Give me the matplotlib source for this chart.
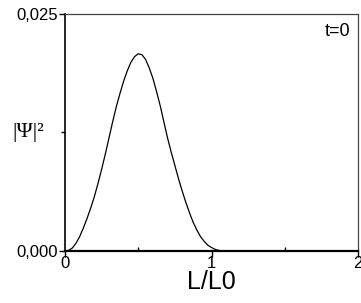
import matplotlib
matplotlib.use("Agg")
import matplotlib.pyplot as plt
from matplotlib.ticker import FixedLocator, FuncFormatter

plt.rcParams['font.family'] = ['Liberation Sans', 'DejaVu Sans']

# values
L = [0.0, 0.025, 0.05, 0.075, 0.10, 0.125, 0.15, 0.175, 0.20, 0.225, 0.25,
     0.275, 0.30, 0.325, 0.35, 0.375, 0.40, 0.425, 0.45, 0.475, 0.50, 0.525,
     0.55, 0.575, 0.60, 0.625, 0.65, 0.675, 0.70, 0.725, 0.75, 0.775, 0.80,
     0.825, 0.85, 0.875, 0.90, 0.925, 0.95, 0.975, 1.00, 1.025, 1.05, 1.075, 2.0]
psi2 = [0.0, 0.00006, 0.0003, 0.0008, 0.0015, 0.0024, 0.0034, 0.0045, 0.0057,
        0.0071, 0.0086, 0.0102, 0.0119, 0.0136, 0.0152, 0.0166, 0.0179, 0.0190,
        0.0199, 0.0205, 0.0208, 0.0207, 0.0202, 0.0193, 0.0182, 0.0168, 0.0153,
        0.0136, 0.0119, 0.0104, 0.0090, 0.0076, 0.0063, 0.0051, 0.0040, 0.0030,
        0.0022, 0.0015, 0.0010, 0.0006, 0.00035, 0.00016, 0.00005, 0.0, 0.0]

fig = plt.figure(figsize=(3.61, 3.03), dpi=100)
ax = fig.add_axes([0.180, 0.172, 0.812, 0.782])
ax.plot(L, psi2, color='black', lw=0.9, clip_on=False)

ax.set_xlim(0, 2)
ax.set_ylim(0, 0.025)

ax.xaxis.set_major_locator(FixedLocator([0, 1, 2]))
ax.xaxis.set_minor_locator(FixedLocator([0.5, 1.5]))
ax.yaxis.set_major_locator(FixedLocator([0, 0.025]))
ax.yaxis.set_minor_locator(FixedLocator([0.0125]))
ax.xaxis.set_major_formatter(FuncFormatter(lambda v, p: "%d" % v))
ax.yaxis.set_major_formatter(FuncFormatter(lambda v, p: ("%.3f" % v).replace('.', ',')))

ax.tick_params(axis='x', which='major', direction='out', length=4, width=1,
               labelsize=12, pad=0)
ax.tick_params(axis='x', which='minor', direction='in', length=3, width=1)
ax.tick_params(axis='y', which='major', direction='out', length=4, width=1,
               labelsize=12, pad=1)
ax.tick_params(axis='y', which='minor', direction='out', length=3, width=1)

ax.spines['bottom'].set_linewidth(1.6)
ax.spines['left'].set_linewidth(1.2)
ax.spines['top'].set_linewidth(0.9)
ax.spines['right'].set_linewidth(0.9)
ax.spines['top'].set_color('#444444')
ax.spines['right'].set_color('#444444')

ax.set_xlabel("L/L0", fontsize=18, labelpad=-1)
fig.text(0.033, 0.562, "|\u03a8|\u00b2", fontsize=16, ha='left', va='center',
         family=['Liberation Serif', 'DejaVu Serif'])
ax.text(0.973, 0.924, "t=0", transform=ax.transAxes, ha='right', va='center',
        fontsize=13)

fig.savefig("out.png", dpi=100)
